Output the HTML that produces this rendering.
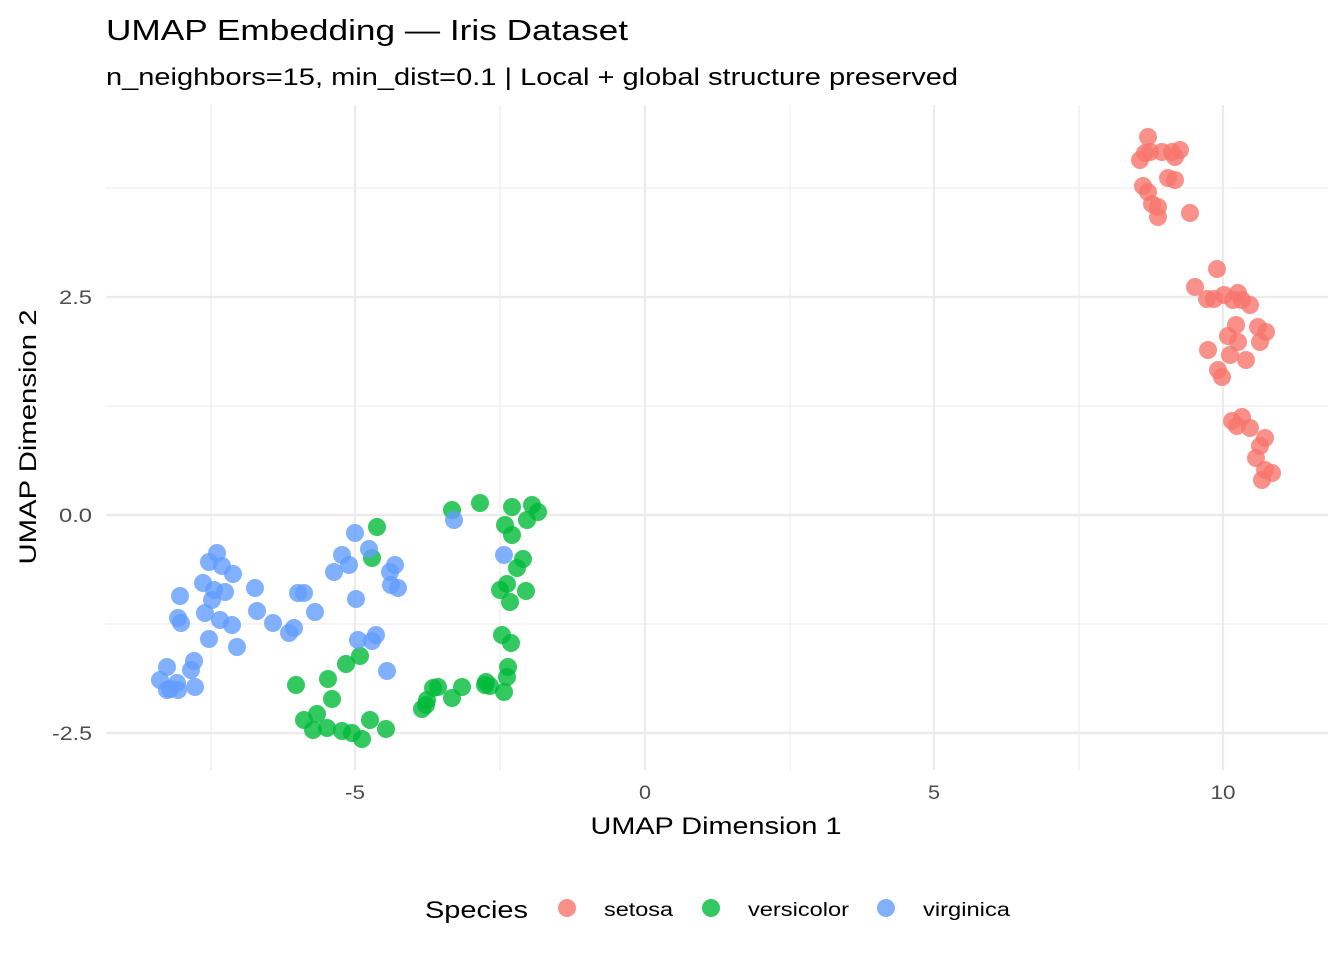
<!DOCTYPE html>
<html><head><meta charset="utf-8"><style>
body{margin:0;background:#fff}
svg text{font-family:"Liberation Sans",sans-serif}
</style></head><body>
<svg width="1344" height="960" xmlns="http://www.w3.org/2000/svg">
<rect width="1344" height="960" fill="#fff"/>
<g stroke="#ebebeb" stroke-width="1.1">
<line x1="106" x2="1328" y1="188" y2="188"/><line x1="106" x2="1328" y1="406" y2="406"/><line x1="106" x2="1328" y1="624" y2="624"/>
<line x1="211" x2="211" y1="105" y2="770"/><line x1="500" x2="500" y1="105" y2="770"/><line x1="790" x2="790" y1="105" y2="770"/><line x1="1079" x2="1079" y1="105" y2="770"/>
</g>
<g stroke="#ebebeb" stroke-width="2.2">
<line x1="106" x2="1328" y1="297" y2="297"/><line x1="106" x2="1328" y1="515" y2="515"/><line x1="106" x2="1328" y1="733" y2="733"/>
<line x1="355" x2="355" y1="105" y2="770"/><line x1="645" x2="645" y1="105" y2="770"/><line x1="934" x2="934" y1="105" y2="770"/><line x1="1223" x2="1223" y1="105" y2="770"/>
</g>
<g font-size="19" fill="#4d4d4d" text-anchor="end">
<text x="92" y="304" textLength="33" lengthAdjust="spacingAndGlyphs">2.5</text><text x="92" y="522" textLength="33" lengthAdjust="spacingAndGlyphs">0.0</text><text x="92" y="740" textLength="40" lengthAdjust="spacingAndGlyphs">-2.5</text>
</g>
<g font-size="19" fill="#4d4d4d" text-anchor="middle">
<text x="355" y="799" textLength="20" lengthAdjust="spacingAndGlyphs">-5</text><text x="645" y="799" textLength="12" lengthAdjust="spacingAndGlyphs">0</text><text x="934" y="799" textLength="12" lengthAdjust="spacingAndGlyphs">5</text><text x="1223" y="799" textLength="25" lengthAdjust="spacingAndGlyphs">10</text>
</g>
<text x="716" y="834" font-size="24" text-anchor="middle" textLength="251" lengthAdjust="spacingAndGlyphs">UMAP Dimension 1</text>
<text transform="translate(36,437) rotate(-90)" font-size="24" text-anchor="middle" textLength="255" lengthAdjust="spacingAndGlyphs">UMAP Dimension 2</text>
<text x="106" y="40" font-size="29" textLength="522" lengthAdjust="spacingAndGlyphs">UMAP Embedding — Iris Dataset</text>
<text x="106" y="85" font-size="24" textLength="852" lengthAdjust="spacingAndGlyphs">n_neighbors=15, min_dist=0.1 | Local + global structure preserved</text>
<g id="pts" fill-opacity="0.8"></g>
<text x="425" y="918" font-size="24" textLength="103" lengthAdjust="spacingAndGlyphs">Species</text>
<circle cx="567" cy="908" r="9" fill="#F8766D" fill-opacity="0.8"/><text x="604" y="916" font-size="19" textLength="69" lengthAdjust="spacingAndGlyphs">setosa</text>
<circle cx="711" cy="908" r="9" fill="#00BA38" fill-opacity="0.8"/><text x="748" y="916" font-size="19" textLength="101" lengthAdjust="spacingAndGlyphs">versicolor</text>
<circle cx="886" cy="908" r="9" fill="#619CFF" fill-opacity="0.8"/><text x="923" y="916" font-size="19" textLength="87" lengthAdjust="spacingAndGlyphs">virginica</text>
</svg>
<script>
const S=[[1148,137],[1140,160],[1145,153],[1150,152],[1162,152],[1172,152],[1180,150],[1175,157],[1143,186],[1148,192],[1168,178],[1175,180],[1152,204],[1158,207],[1158,217],[1190,213],[1217,269],[1195,287],[1207,299],[1214,299],[1224,295],[1238,293],[1233,300],[1242,300],[1250,305],[1236,325],[1258,327],[1266,332],[1228,336],[1238,342],[1260,342],[1208,350],[1230,355],[1246,360],[1218,370],[1222,377],[1242,417],[1232,421],[1237,426],[1250,428],[1265,438],[1260,446],[1256,458],[1265,470],[1272,473],[1262,480]];
const V=[[452,510],[480,503],[512,507],[532,505],[538,512],[527,520],[505,525],[512,535],[377,527],[372,558],[523,559],[517,568],[507,584],[500,590],[526,591],[510,602],[502,635],[511,643],[508,667],[507,677],[486,682],[296,685],[328,679],[346,664],[360,656],[332,699],[304,720],[317,714],[313,730],[327,728],[342,731],[352,733],[362,739],[370,720],[386,729],[422,709],[427,700],[433,688],[438,687],[452,698],[462,687],[490,686],[504,692],[485,685],[426,705]];
const G=[[355,533],[369,549],[342,555],[349,565],[334,572],[395,565],[390,572],[391,585],[398,588],[356,599],[454,520],[504,555],[217,553],[209,562],[222,566],[233,574],[203,583],[214,590],[225,592],[212,600],[180,596],[255,588],[298,593],[304,593],[257,611],[205,613],[178,618],[181,623],[220,620],[232,625],[273,623],[294,628],[289,633],[315,612],[209,639],[237,647],[358,640],[376,635],[372,641],[387,671],[194,661],[191,670],[167,667],[160,680],[177,683],[195,687],[170,689],[178,690],[167,690]];
let h='';
for(const[a,c]of[[S,'#F8766D'],[V,'#00BA38'],[G,'#619CFF']])for(const[x,y]of a)h+=`<circle cx="${x}" cy="${y}" r="9" fill="${c}"/>`;
document.getElementById('pts').innerHTML=h;
</script>
</body></html>
